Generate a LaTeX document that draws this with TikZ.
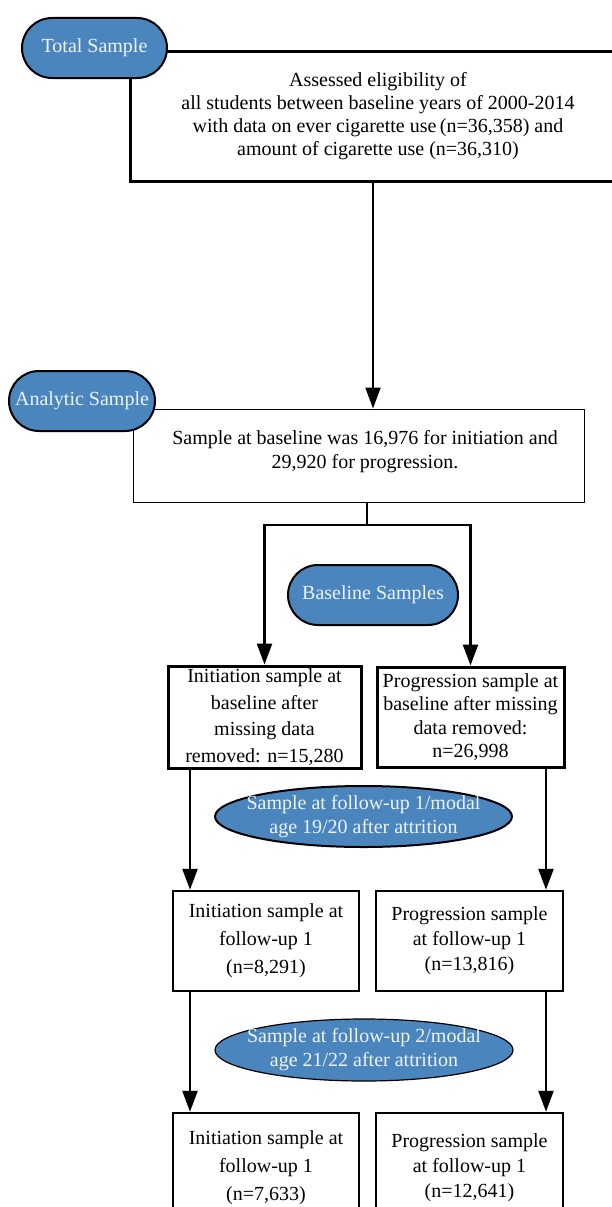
\documentclass[tikz,border=0pt]{standalone}
\usepackage{fontspec}
\setmainfont{Liberation Serif}
\usetikzlibrary{shapes.geometric, arrows.meta, positioning}

\definecolor{pillblue}{HTML}{4A86BD}
\definecolor{pilltext}{HTML}{EEF3F9}

\begin{document}
\begin{tikzpicture}[x=1pt, y=-1pt,
    box/.style={draw, line width=2.5pt, align=center, inner sep=0pt,
        font=\fontsize{20}{25}\selectfont},
    thinbox/.style={box, line width=1pt},
    pill/.style={draw, line width=2pt, fill=pillblue, text=pilltext, rounded corners=30pt,
        inner sep=0pt, minimum height=60pt, font=\fontsize{20}{24}\selectfont},
    oval/.style={draw, ellipse, line width=2pt, fill=pillblue, text=pilltext, align=center,
        inner xsep=-14pt, inner ysep=-5pt, minimum height=61pt, minimum width=297pt,
        font=\fontsize{20}{24}\selectfont},
    link/.style={line width=2.5pt},
    arrow/.style={link, -{Triangle[length=21pt, width=15pt]}}]

    \useasboundingbox (0,0) rectangle (612,1207);
    \clip (0,0) rectangle (612,1207);

    % Total sample
    \node[box, line width=3pt, minimum width=496pt, minimum height=129pt, font=\fontsize{20}{23}\selectfont]
        (elig) at (378,116.5) {Assessed eligibility of\\all students between baseline years of 2000-2014\\
        with data on ever cigarette use\,(n=36,358) and\\amount of cigarette use (n=36,310)};
    \node[pill, minimum width=145pt] (total) at (94.5,48) {Total Sample};

    % Analytic sample
    \node[thinbox, minimum width=451pt, minimum height=93pt] (ana) at (358.5,455.5) {};
    \node[font=\fontsize{20}{24}\selectfont, align=center] (anatext) at (365,452)
        {Sample at baseline was 16,976 for initiation and\\29,920 for progression.};
    \node[pill, minimum width=146pt] (anlabel) at (82,401) {Analytic Sample};

    \coordinate (topcol) at (373,0);
    \draw[arrow, line width=2pt] (elig.south -| topcol) -- (ana.north -| topcol);

    % Baseline samples
    \node[pill, minimum width=170pt] (base) at (373,595) {Baseline Samples};
    \node[box, line width=3pt, minimum width=193pt, minimum height=102pt, font=\fontsize{20}{26.5}\selectfont]
        (init1) at (264.5,717) {Initiation sample at\\baseline after\\missing data\\removed: n=15,280};
    \node[box, line width=3pt, minimum width=187pt, minimum height=100pt, font=\fontsize{20}{23.5}\selectfont]
        (prog1) at (470.5,717) {Progression sample at\\baseline after missing\\data removed:\\n=26,998};

    \coordinate (split) at (367,525);
    \draw[link, line width=2pt] (ana.south -| split) -- (split);
    \draw[arrow] (split) -| (init1.north);
    \draw[arrow] (split) -| (prog1.north);

    % Follow-up 1
    \node[oval] (fu1) at (363.5,816.5) {Sample at follow-up 1/modal\\age 19/20 after attrition};
    \node[box, minimum width=186pt, minimum height=100pt, font=\fontsize{20}{28}\selectfont]
        (init2) at (266,941) {Initiation sample at\\follow-up 1\\(n=8,291)};
    \node[box, minimum width=187pt, minimum height=100pt] (prog2) at (469.5,941)
        {Progression sample\\at follow-up 1\\(n=13,816)};

    \coordinate (lcol) at (190,0);
    \coordinate (rcol) at (546,0);
    \draw[arrow] (init1.south -| lcol) -- (init2.north -| lcol);
    \draw[arrow] (prog1.south -| rcol) -- (prog2.north -| rcol);

    % Follow-up 2
    \node[oval, line width=1.2pt, minimum width=298pt, minimum height=62pt] (fu2) at (364,1050)
        {Sample at follow-up 2/modal\\age 21/22 after attrition};
    \node[box, minimum width=186pt, minimum height=110pt, font=\fontsize{20}{28}\selectfont]
        (init3) at (266,1168) {Initiation sample at\\follow-up 1\\(n=7,633)};
    \node[box, minimum width=187pt, minimum height=110pt] (prog3) at (469.5,1168)
        {Progression sample\\at follow-up 1\\(n=12,641)};

    \draw[arrow] (init2.south -| lcol) -- (init3.north -| lcol);
    \draw[arrow] (prog2.south -| rcol) -- (prog3.north -| rcol);

\end{tikzpicture}
\end{document}
